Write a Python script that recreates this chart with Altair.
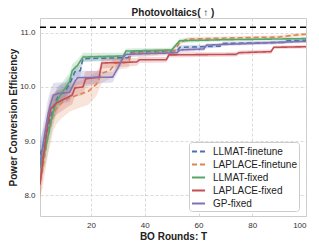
import altair as alt
import pandas as pd

title_text = ["Photovoltaics( ↑ )"]
names = ["LLMAT-finetune", "LAPLACE-finetune", "LLMAT-fixed", "LAPLACE-fixed", "GP-fixed"]
colors = ["#4C72B0", "#DD8452", "#55A868", "#C44E52", "#8172B3"]
dashes = [[5, 3], [5, 3], [1, 0], [1, 0], [1, 0]]

blue_t = [1, 2, 3, 4, 5, 6, 7, 8, 10, 12, 14, 16, 17, 34, 35, 52, 53, 68, 69, 92, 93, 100]
blue_v = [8.75, 8.9, 9.05, 9.25, 9.45, 9.6, 9.75, 9.85, 9.9, 10.05, 10.28, 10.3, 10.52, 10.54, 10.64, 10.66, 10.73, 10.75, 10.8, 10.82, 10.85, 10.86]
blue_sd = [0.25, 0.28, 0.28, 0.27, 0.25, 0.22, 0.2, 0.18, 0.16, 0.14, 0.12, 0.1, 0.06, 0.05, 0.04, 0.04, 0.04, 0.03, 0.03, 0.03, 0.03, 0.03]

orange_t = [1, 2, 3, 4, 5, 6, 7, 9, 12, 15, 19, 22, 24, 27, 29, 34, 35, 51, 53, 56, 70, 90, 95, 100]
orange_v = [8.25, 8.5, 8.8, 9.1, 9.3, 9.5, 9.6, 9.7, 9.8, 9.85, 9.92, 10.05, 10.25, 10.3, 10.43, 10.45, 10.62, 10.65, 10.82, 10.88, 10.9, 10.92, 10.95, 10.97]
orange_sd = [0.3, 0.35, 0.35, 0.35, 0.33, 0.3, 0.3, 0.28, 0.26, 0.25, 0.25, 0.22, 0.18, 0.15, 0.12, 0.1, 0.06, 0.05, 0.04, 0.04, 0.03, 0.03, 0.03, 0.03]

green_t = [1, 2, 3, 4, 5, 6, 7, 8, 10, 12, 13, 15, 17, 32, 33, 50, 53, 70, 100]
green_v = [8.5, 8.7, 8.85, 9.1, 9.35, 9.55, 9.7, 9.8, 9.95, 10.1, 10.3, 10.4, 10.55, 10.57, 10.66, 10.68, 10.85, 10.87, 10.89]
green_sd = [0.3, 0.3, 0.3, 0.3, 0.28, 0.25, 0.22, 0.2, 0.18, 0.15, 0.12, 0.1, 0.08, 0.06, 0.05, 0.04, 0.04, 0.03, 0.03]

red_t = [1, 2, 3, 4, 5, 7, 9, 11, 13, 14, 17, 18, 23, 24, 37, 38, 48, 49, 74, 75, 87, 88, 100]
red_v = [8.2, 8.6, 9.0, 9.35, 9.6, 9.7, 9.75, 9.8, 9.85, 9.98, 10.0, 10.15, 10.18, 10.44, 10.46, 10.5, 10.5, 10.59, 10.6, 10.63, 10.65, 10.73, 10.74]
red_sd = [0.25, 0.3, 0.3, 0.28, 0.25, 0.22, 0.2, 0.18, 0.17, 0.16, 0.15, 0.14, 0.12, 0.1, 0.07, 0.06, 0.05, 0.05, 0.04, 0.04, 0.04, 0.03, 0.03]

purple_t = [1, 2, 3, 4, 5, 6, 8, 12, 14, 15, 28, 30, 32, 33, 52, 53, 62, 63, 100]
purple_v = [8.55, 8.9, 9.2, 9.5, 9.7, 9.85, 9.88, 9.9, 10.1, 10.17, 10.18, 10.35, 10.55, 10.6, 10.63, 10.68, 10.7, 10.77, 10.84]
purple_sd = [0.35, 0.35, 0.3, 0.28, 0.25, 0.22, 0.2, 0.18, 0.15, 0.13, 0.1, 0.08, 0.06, 0.05, 0.04, 0.04, 0.04, 0.03, 0.03]

optimum = [11.1]
y_ticks = [8.0, 8.5, 9.0, 9.5, 10.0, 10.5, 11.0]
x_ticks = [20, 40, 60, 80, 100]

series = [
    (names[0], blue_t, blue_v, blue_sd),
    (names[1], orange_t, orange_v, orange_sd),
    (names[2], green_t, green_v, green_sd),
    (names[3], red_t, red_v, red_sd),
    (names[4], purple_t, purple_v, purple_sd),
]
rows = []
for k, (name, ts, vs, sds) in enumerate(series):
    for t, v, s in zip(ts, vs, sds):
        rows.append({"series": name, "band": name, "T": t, "v": v, "lo": v - s, "hi": v + s})
df = pd.DataFrame(rows)

FONT = "Liberation Sans"
W, H = 266, 198
xs = alt.Scale(domain=[1, 100], nice=False, zero=False)
ys = alt.Scale(domain=[7.62, 11.27], nice=False, zero=False)

base = alt.Chart(df)

bands = base.mark_area(opacity=0.22, clip=True).encode(
    x=alt.X("T:Q", scale=xs),
    y=alt.Y("lo:Q", scale=ys),
    y2="hi:Q",
    fill=alt.Fill("band:N", scale=alt.Scale(domain=names, range=colors), legend=None),
    detail="band:N",
)

leg = alt.Legend(title=None, orient="none", legendX=149, legendY=124)
lines = base.mark_line(clip=True, strokeWidth=1.6).encode(
    x=alt.X("T:Q", scale=xs,
            axis=alt.Axis(title="BO Rounds: T", values=x_ticks, format="d")),
    y=alt.Y("v:Q", scale=ys,
            axis=alt.Axis(title="Power Conversion Efficiency", values=y_ticks, format=".1f")),
    color=alt.Color("series:N", scale=alt.Scale(domain=names, range=colors), legend=leg),
    strokeDash=alt.StrokeDash("series:N", scale=alt.Scale(domain=names, range=dashes), legend=leg),
    order="T:Q",
)

opt = alt.Chart(pd.DataFrame({"y": optimum})).mark_rule(
    color="black", strokeDash=[6, 4], strokeWidth=1.6
).encode(y=alt.Y("y:Q", scale=ys))

title = alt.Chart(pd.DataFrame({"t": title_text})).mark_text(
    font=FONT, fontSize=10, fontWeight="bold", color="#222222",
    align="center", baseline="top",
).encode(text="t:N", x=alt.value(W / 2), y=alt.value(-10))

chart = (
    alt.layer(bands, lines, opt, title)
    .resolve_legend(fill="independent")
    .properties(
        width=W,
        height=H,
        autosize=alt.AutoSizeParams(type="none"),
        padding={"left": 32, "top": 10, "right": 5, "bottom": 28},
    )
    .configure_view(stroke="#cccccc", strokeWidth=1)
    .configure_axis(
        labelFont=FONT, labelFontSize=8, labelColor="#333333",
        titleFont=FONT, titleFontSize=10, titleFontWeight="bold", titleColor="#222222",
        grid=True, gridColor="#d0d0d0", gridDash=[3, 2], gridWidth=0.8,
        domain=False, ticks=False, labelPadding=5, labelOverlap=False,
    )
    .configure_axisX(titlePadding=2)
    .configure_axisY(titlePadding=1)
    .configure_legend(
        labelFont=FONT, labelFontSize=10, labelColor="#222222",
        symbolType="stroke", symbolSize=169, symbolStrokeWidth=1.8,
        rowPadding=0, labelOffset=7, padding=2,
        fillColor="white", strokeColor="#cccccc", cornerRadius=3,
    )
)

chart.save("out.html", embed_options={"renderer": "svg", "actions": False})
